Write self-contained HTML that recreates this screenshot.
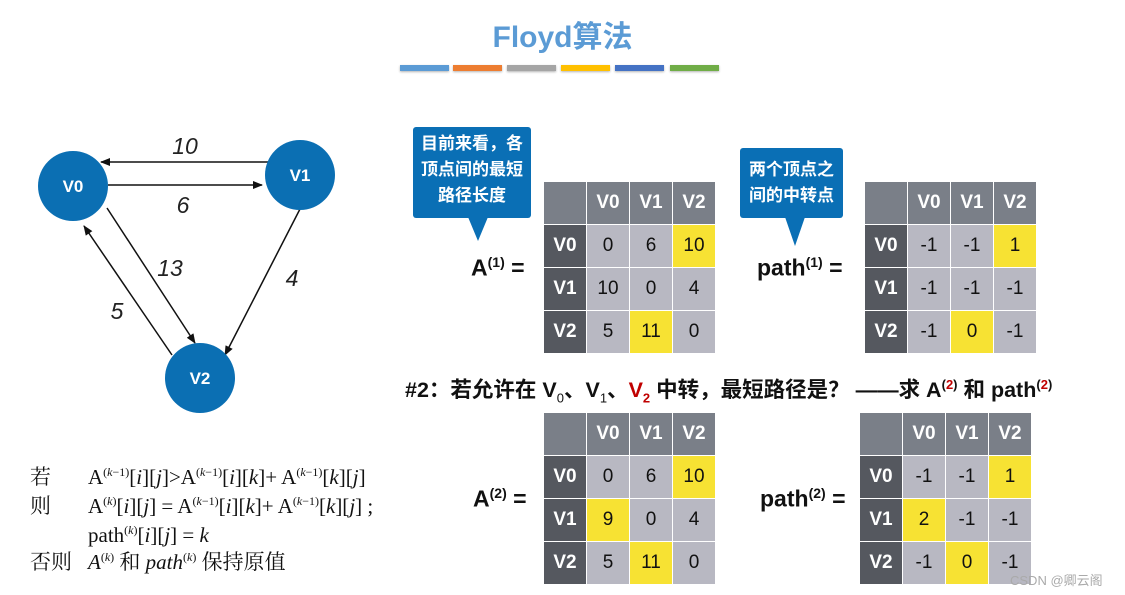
<!DOCTYPE html>
<html><head><meta charset="utf-8">
<style>
body{margin:0;width:1125px;height:595px;background:#fff;position:relative;overflow:hidden;font-family:"Liberation Sans","Noto Sans CJK SC",sans-serif}
.a{position:absolute}
.t{position:absolute;display:grid;grid-template-columns:42px 42px 42px 42px;grid-template-rows:42px 42px 42px 42px;gap:1px;background:#fff}
.t div{display:flex;align-items:center;justify-content:center;font-size:19px;color:#111}
.h{background:#7a7f88;color:#fff!important;font-weight:bold}
.c{background:#55585f;color:#fff!important;font-weight:bold}
.g{background:#b8b8c2}
.y{background:#f7e233}
.bar{position:absolute;top:65px;height:6px;width:49px;box-shadow:0 1px 2px rgba(0,0,0,.3)}
.lab{position:absolute;font-weight:bold;font-size:23px;color:#111}
.lab sup{font-size:14px}
.call{position:absolute;background:#0a6fb5;color:#fff;font-size:17px;line-height:26px;text-align:center;border-radius:3px;font-weight:bold}
.f{position:absolute;left:30px;font-family:"Liberation Serif","Noto Serif CJK SC",serif;font-size:21px;color:#111;white-space:nowrap;height:28px;line-height:28px}
.f sup{font-size:12px;line-height:0}
.f b{display:inline-block;width:58px;font-weight:normal}
</style></head><body>
<div class="a" style="left:0;width:1125px;top:12px;text-align:center;font-size:30px;color:#5b9bd5;font-weight:bold">Floyd算法</div>
<div class="bar" style="left:400px;background:#5b9bd5"></div>
<div class="bar" style="left:453px;background:#ed7d31"></div>
<div class="bar" style="left:507px;background:#a5a5a5"></div>
<div class="bar" style="left:561px;background:#ffc000"></div>
<div class="bar" style="left:615px;background:#4472c4"></div>
<div class="bar" style="left:670px;background:#70ad47"></div>

<svg class="a" style="left:0;top:0" width="400" height="440">
<defs><marker id="m" markerWidth="10" markerHeight="8" refX="9" refY="4" orient="auto" markerUnits="userSpaceOnUse"><path d="M0,0L10,4L0,8z" fill="#111"/></marker></defs>
<g stroke="#111" stroke-width="1.5" marker-end="url(#m)">
<line x1="270" y1="162" x2="101" y2="162"/>
<line x1="108" y1="185" x2="262" y2="185"/>
<line x1="107" y1="208" x2="195" y2="343"/>
<line x1="172" y1="355" x2="84" y2="226"/>
<line x1="300" y1="209" x2="225" y2="355"/>
</g>
<g fill="#0b6fb3"><circle cx="73" cy="186" r="35"/><circle cx="300" cy="175" r="35"/><circle cx="200" cy="378" r="35"/></g>
<g fill="#fff" font-weight="bold" font-size="17" text-anchor="middle" font-family="Liberation Sans"><text x="73" y="192">V0</text><text x="300" y="181">V1</text><text x="200" y="384">V2</text></g>
<g fill="#222" font-style="italic" font-size="23" text-anchor="middle" font-family="Liberation Sans"><text x="185" y="154">10</text><text x="183" y="213">6</text><text x="170" y="276">13</text><text x="117" y="319">5</text><text x="292" y="286">4</text></g>
</svg>

<div class="call" style="left:413px;top:127px;width:118px;height:91px;padding-top:4px;box-sizing:border-box">目前来看，各<br>顶点间的最短<br>路径长度</div>
<svg class="a" style="left:468px;top:217px" width="20" height="25"><path d="M0,0L20,0L10,24z" fill="#0a6fb5"/></svg>
<div class="call" style="left:740px;top:148px;width:103px;height:70px;padding-top:9px;box-sizing:border-box">两个顶点之<br>间的中转点</div>
<svg class="a" style="left:785px;top:217px" width="20" height="30"><path d="M0,0L20,0L10,29z" fill="#0a6fb5"/></svg>

<div class="lab" style="left:471px;top:254px">A<sup>(1)</sup> =</div>
<div class="lab" style="left:757px;top:254px">path<sup>(1)</sup> =</div>
<div class="lab" style="left:473px;top:485px">A<sup>(2)</sup> =</div>
<div class="lab" style="left:760px;top:485px">path<sup>(2)</sup> =</div>

<div class="t" style="left:544px;top:182px"><div class="h"></div><div class="h">V0</div><div class="h">V1</div><div class="h">V2</div>
<div class="c">V0</div><div class="g">0</div><div class="g">6</div><div class="y">10</div>
<div class="c">V1</div><div class="g">10</div><div class="g">0</div><div class="g">4</div>
<div class="c">V2</div><div class="g">5</div><div class="y">11</div><div class="g">0</div></div>

<div class="t" style="left:865px;top:182px"><div class="h"></div><div class="h">V0</div><div class="h">V1</div><div class="h">V2</div>
<div class="c">V0</div><div class="g">-1</div><div class="g">-1</div><div class="y">1</div>
<div class="c">V1</div><div class="g">-1</div><div class="g">-1</div><div class="g">-1</div>
<div class="c">V2</div><div class="g">-1</div><div class="y">0</div><div class="g">-1</div></div>

<div class="t" style="left:544px;top:413px"><div class="h"></div><div class="h">V0</div><div class="h">V1</div><div class="h">V2</div>
<div class="c">V0</div><div class="g">0</div><div class="g">6</div><div class="y">10</div>
<div class="c">V1</div><div class="y">9</div><div class="g">0</div><div class="g">4</div>
<div class="c">V2</div><div class="g">5</div><div class="y">11</div><div class="g">0</div></div>

<div class="t" style="left:860px;top:413px"><div class="h"></div><div class="h">V0</div><div class="h">V1</div><div class="h">V2</div>
<div class="c">V0</div><div class="g">-1</div><div class="g">-1</div><div class="y">1</div>
<div class="c">V1</div><div class="y">2</div><div class="g">-1</div><div class="g">-1</div>
<div class="c">V2</div><div class="g">-1</div><div class="y">0</div><div class="g">-1</div></div>

<div class="a" style="left:405px;top:373px;font-size:21.5px;font-weight:bold;color:#111;white-space:nowrap">#2：若允许在 V<sub style="font-size:13px;font-weight:normal">0</sub>、V<sub style="font-size:13px;font-weight:normal">1</sub>、<span style="color:#c00000">V<sub style="font-size:13px">2</sub></span> 中转，最短路径是？ ——求 A<sup style="font-size:13px">(<span style="color:#c00000">2</span>)</sup> 和 path<sup style="font-size:13px">(<span style="color:#c00000">2</span>)</sup></div>

<div class="f" style="top:463px"><b>若</b>A<sup>(<i>k</i>−1)</sup>[<i>i</i>][<i>j</i>]&gt;A<sup>(<i>k</i>−1)</sup>[<i>i</i>][<i>k</i>]+ A<sup>(<i>k</i>−1)</sup>[<i>k</i>][<i>j</i>]</div>
<div class="f" style="top:492px"><b>则</b>A<sup>(<i>k</i>)</sup>[<i>i</i>][<i>j</i>] = A<sup>(<i>k</i>−1)</sup>[<i>i</i>][<i>k</i>]+ A<sup>(<i>k</i>−1)</sup>[<i>k</i>][<i>j</i>] ;</div>
<div class="f" style="top:521px"><b></b>path<sup>(<i>k</i>)</sup>[<i>i</i>][<i>j</i>] = <i>k</i></div>
<div class="f" style="top:548px"><b>否则</b><i>A</i><sup>(<i>k</i>)</sup> 和 <i>path</i><sup>(<i>k</i>)</sup> 保持原值</div>

<div class="a" style="left:1010px;top:570px;font-size:13px;color:#aaa">CSDN @卿云阁</div>
</body></html>
